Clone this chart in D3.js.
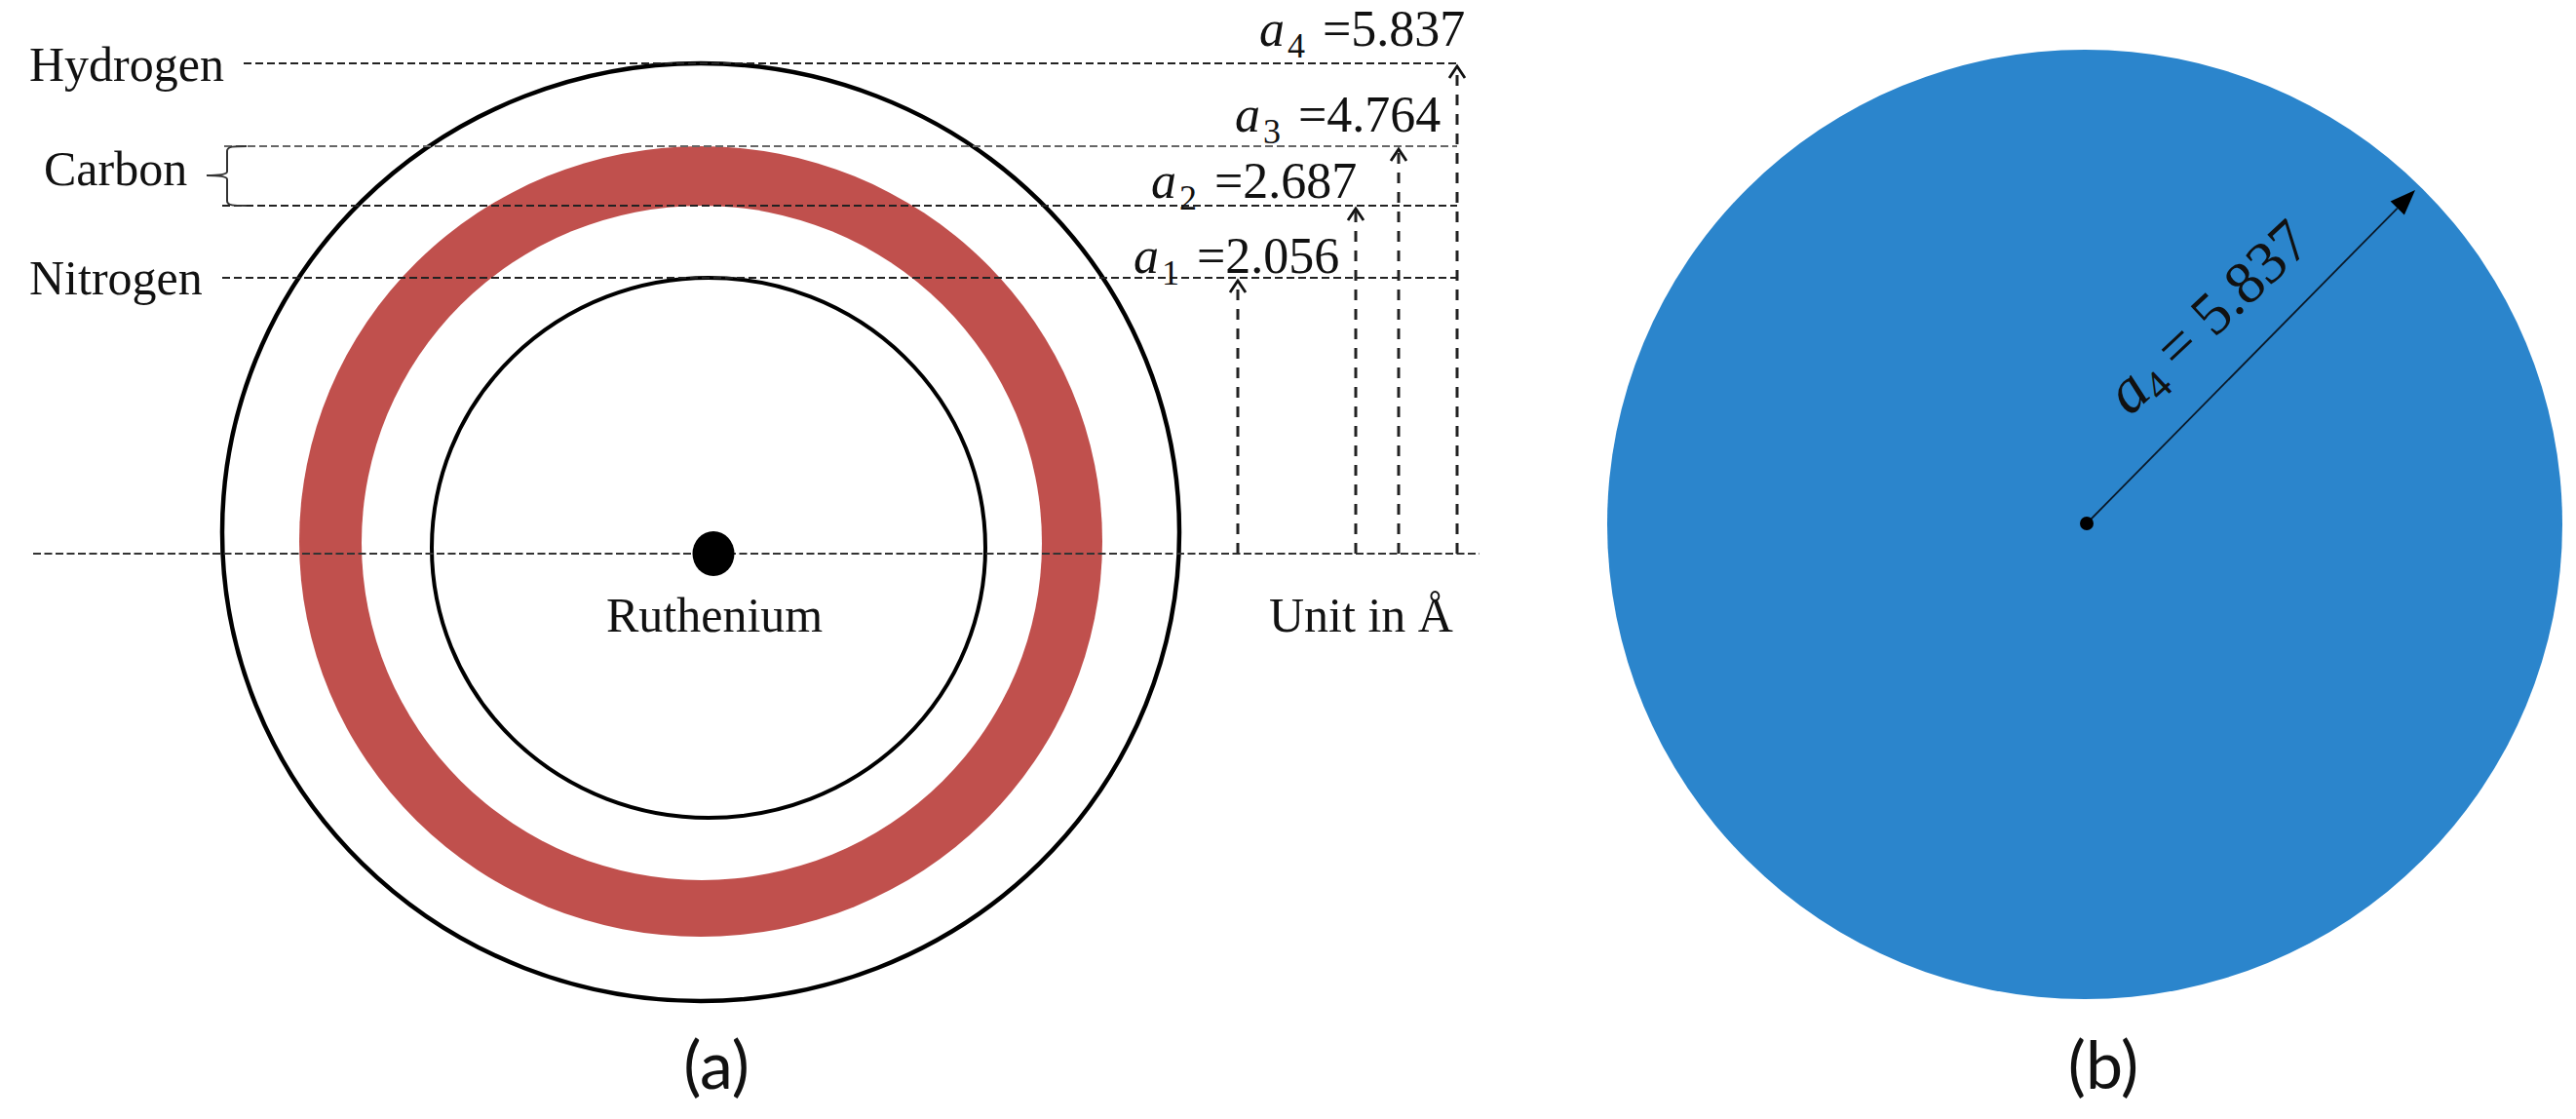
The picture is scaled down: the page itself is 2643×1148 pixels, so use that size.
<!DOCTYPE html>
<html>
<head>
<meta charset="utf-8">
<script src="https://cdn.jsdelivr.net/npm/d3@7"></script>
<style>
  html, body { margin: 0; padding: 0; background: #fff; }
  svg { display: block; }
  text { font-family: "Liberation Serif", serif; fill: #111; }
  .caption { font-family: Lato, "Open Sans", sans-serif; }
</style>
</head>
<body>
<svg id="chart" width="2643" height="1148"></svg>
<script>
// values, in angstrom
const radiusIndex = ['1', '2', '3', '4'];
const radiusValues = [2.056, 2.687, 4.764, 5.837];
const blueRadius = 5.837;
const elementNames = ['Hydrogen', 'Carbon', 'Nitrogen', 'Ruthenium'];
const panelNames = ['(a)', '(b)'];
const unitLabel = 'Unit in Å';

const svg = d3.select('#chart');
const baseY = 568;

// the drawing is not to scale, so these are piecewise
const y = d3.scaleLinear().domain([0, ...radiusValues]).range([baseY, 285, 211, 150, 65]);
const arrowX = d3.scaleLinear().domain(radiusValues).range([1270, 1391, 1435, 1495]);
const rx = d3.scaleLinear().domain(radiusValues).range([284, 349, 412, 491]);
const ry = d3.scaleLinear().domain(radiusValues).range([277, 346, 405.5, 481]);
const cx = d3.scaleLinear().domain(radiusValues).range([727, 720, 719, 719]);
const labelX = d3.scaleLinear().domain(radiusValues).range([1163, 1181, 1267, 1292]);
const labelY = d3.scaleLinear().domain(radiusValues).range([280, 203, 135, 47]);

const ellipseFor = (g, v) => g.append('ellipse')
  .attr('cx', cx(v))
  .attr('cy', y(v) + ry(v))
  .attr('rx', rx(v))
  .attr('ry', ry(v));

const a = svg.append('g');

// carbon ring, a3 outside and a2 inside
ellipseFor(a, radiusValues[2]).attr('fill', '#c0504d');
ellipseFor(a, radiusValues[1]).attr('fill', '#fff');

// nitrogen and hydrogen circles
[radiusValues[0], radiusValues[3]].forEach((v, i) => {
  ellipseFor(a, v)
    .attr('fill', 'none')
    .attr('stroke', '#000')
    .attr('stroke-width', i ? 4.5 : 4);
});

// horizontal dashed levels
const lineStart = [228, 228, 230, 250];
a.selectAll('.level')
  .data(radiusValues)
  .join('line')
  .attr('class', 'level')
  .attr('x1', (d, i) => lineStart[i])
  .attr('x2', d => 1495)
  .attr('y1', d => y(d))
  .attr('y2', d => y(d))
  .attr('stroke', (d, i) => i === 2 ? '#666' : '#222')
  .attr('stroke-width', 2)
  .attr('stroke-dasharray', '8 4');

// base line through the centre
a.append('line')
  .attr('x1', 34).attr('x2', 1518)
  .attr('y1', baseY).attr('y2', baseY)
  .attr('stroke', '#333')
  .attr('stroke-width', 2)
  .attr('stroke-dasharray', '8 3.5');

// vertical dashed arrows
a.selectAll('.rise')
  .data(radiusValues)
  .join('line')
  .attr('class', 'rise')
  .attr('x1', d => arrowX(d))
  .attr('x2', d => arrowX(d))
  .attr('y1', baseY)
  .attr('y2', d => y(d) + 4)
  .attr('stroke', '#222')
  .attr('stroke-width', 3)
  .attr('stroke-dasharray', '11 9');

a.selectAll('.head')
  .data(radiusValues)
  .join('path')
  .attr('class', 'head')
  .attr('d', d => {
    const px = arrowX(d), py = y(d) + 3;
    return d3.line()([[px - 8, py + 12], [px, py], [px + 8, py + 12]]);
  })
  .attr('fill', 'none')
  .attr('stroke', '#111')
  .attr('stroke-width', 2.8);

// ruthenium atom
a.append('ellipse')
  .attr('cx', 732).attr('cy', baseY)
  .attr('rx', 21.5).attr('ry', 23)
  .attr('fill', '#000');

// carbon brace
const braceTop = y(radiusValues[2]), braceBot = y(radiusValues[1]);
const braceMid = 180;
a.append('path')
  .attr('d', `M253,${braceTop} C240,${braceTop} 233,${braceTop} 233,${braceTop + 5}
    L233,${braceMid - 4} Q233,${braceMid} 212,${braceMid} Q233,${braceMid} 233,${braceMid + 4}
    L233,${braceBot - 5} C233,${braceBot} 240,${braceBot} 253,${braceBot}`)
  .attr('fill', 'none')
  .attr('stroke', '#333')
  .attr('stroke-width', 2);

// element names
const namePos = [[30, 83], [45, 190], [30, 302], [622, 648]];
a.selectAll('.name')
  .data(elementNames)
  .join('text')
  .attr('class', 'name')
  .attr('x', (d, i) => namePos[i][0])
  .attr('y', (d, i) => namePos[i][1])
  .attr('font-size', 50)
  .text(d => d);

a.append('text')
  .attr('x', 1302).attr('y', 648)
  .attr('font-size', 50)
  .text(unitLabel);

// a_n = value labels
radiusValues.forEach((v, i) => {
  const t = a.append('text').attr('y', labelY(v));
  t.append('tspan')
    .attr('x', labelX(v))
    .attr('font-size', 52)
    .attr('font-style', 'italic')
    .text('a');
  t.append('tspan')
    .attr('font-size', 36)
    .attr('dx', 3)
    .attr('dy', 12)
    .text(radiusIndex[i]);
  t.append('tspan')
    .attr('x', labelX(v) + 65)
    .attr('dy', -12)
    .attr('font-size', 52)
    .text('=' + v.toFixed(3));
});

// panel b
const b = svg.append('g');
const blueCx = 2139, blueCy = 538;
b.append('ellipse')
  .attr('cx', blueCx).attr('cy', blueCy)
  .attr('rx', 490).attr('ry', 487)
  .attr('fill', '#2b85cc');

const tip = [2478, 195];
const start = [2141, 537];
const angle = Math.atan2(tip[1] - start[1], tip[0] - start[0]);
const headLen = 26;
const neck = [tip[0] - headLen * Math.cos(angle), tip[1] - headLen * Math.sin(angle)];

b.append('line')
  .attr('x1', start[0]).attr('y1', start[1])
  .attr('x2', neck[0]).attr('y2', neck[1])
  .attr('stroke', '#0a1a2a')
  .attr('stroke-width', 1.8);

b.append('path')
  .attr('d', d3.line()([
    tip,
    [neck[0] - 10 * Math.sin(angle), neck[1] + 10 * Math.cos(angle)],
    [neck[0] + 10 * Math.sin(angle), neck[1] - 10 * Math.cos(angle)]
  ]) + 'Z')
  .attr('fill', '#000');

b.append('circle')
  .attr('cx', start[0]).attr('cy', start[1])
  .attr('r', 7)
  .attr('fill', '#000');

const blueLabel = b.append('text')
  .attr('transform', 'translate(2185,428) rotate(-43)');
blueLabel.append('tspan')
  .attr('font-size', 66)
  .attr('font-style', 'italic')
  .text('a');
blueLabel.append('tspan')
  .attr('font-size', 42)
  .attr('dy', 10)
  .text('4');
blueLabel.append('tspan')
  .attr('font-size', 62)
  .attr('dy', -10)
  .attr('dx', 14)
  .text('= ' + blueRadius.toFixed(3));

// captions
svg.selectAll('.caption')
  .data(panelNames)
  .join('text')
  .attr('class', 'caption')
  .attr('x', (d, i) => [735, 2158][i])
  .attr('y', 1117)
  .attr('text-anchor', 'middle')
  .attr('font-size', 68)
  .text(d => d);
</script>
</body>
</html>
